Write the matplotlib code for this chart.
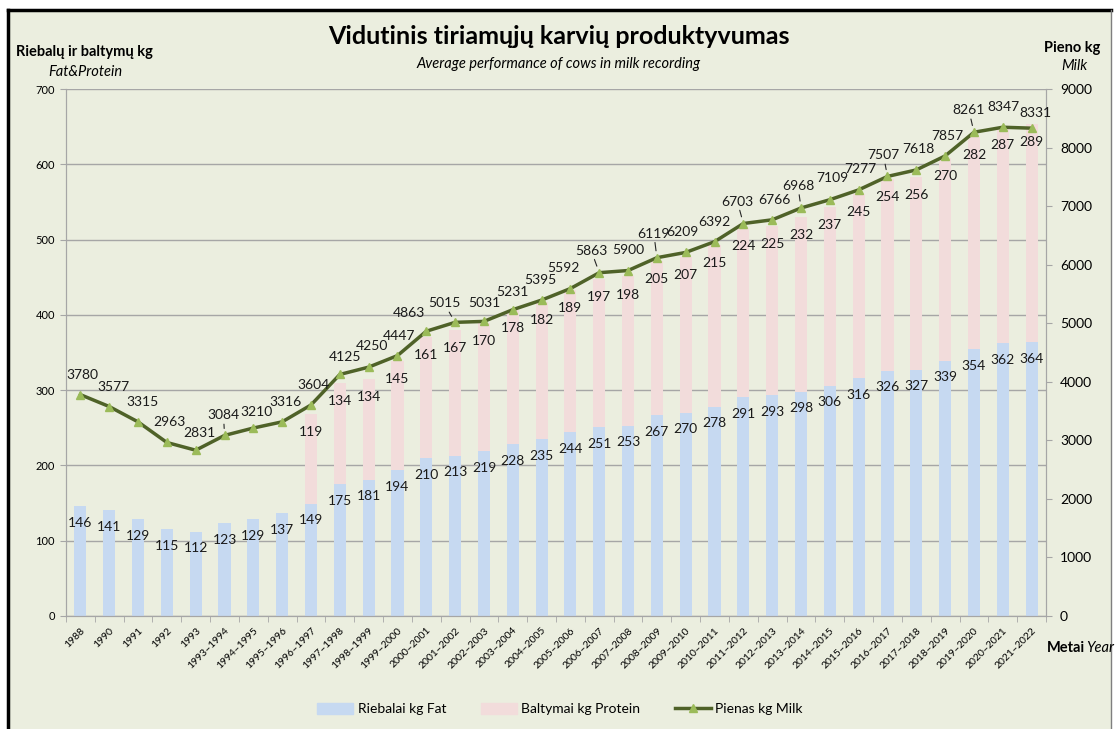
import matplotlib
matplotlib.use('Agg')
import matplotlib.pyplot as plt
import matplotlib.patches as mpatches
from matplotlib.lines import Line2D
import numpy as np

plt.rcParams['font.family'] = ['Lato', 'DejaVu Sans']

years = ["1988", "1990", "1991", "1992", "1993",
         "1993–1994", "1994–1995", "1995–1996", "1996–1997", "1997–1998",
         "1998–1999", "1999–2000", "2000–2001", "2001–2002", "2002–2003",
         "2003–2004", "2004–2005", "2005–2006", "2006–2007", "2007–2008",
         "2008–2009", "2009–2010", "2010–2011", "2011–2012", "2012–2013",
         "2013–2014", "2014–2015", "2015–2016", "2016–2017", "2017–2018",
         "2018–2019", "2019–2020", "2020–2021", "2021–2022"]
fat = [146, 141, 129, 115, 112, 123, 129, 137, 149, 175, 181, 194, 210, 213,
       219, 228, 235, 244, 251, 253, 267, 270, 278, 291, 293, 298, 306, 316,
       326, 327, 339, 354, 362, 364]
protein = [None] * 8 + [119, 134, 134, 145, 161, 167, 170, 178, 182, 189, 197,
                        198, 205, 207, 215, 224, 225, 232, 237, 245, 254, 256,
                        270, 282, 287, 289]
milk = [3780, 3577, 3315, 2963, 2831, 3084, 3210, 3316, 3604, 4125, 4250, 4447,
        4863, 5015, 5031, 5231, 5395, 5592, 5863, 5900, 6119, 6209, 6392, 6703,
        6766, 6968, 7109, 7277, 7507, 7618, 7857, 8261, 8347, 8331]

# label nudges (pixels) for the milk labels, as placed in the source chart
milk_dx = [2, 4, 4, 3, 4, -1, 3, 3, 3, 5, 3, 2, -17, -11, 0, 0, -1, -7, -8, 0,
           -3, -3, 0, -6, 2, -3, 2, 2, -4, 2, 2, -5, 1, 4]
milk_dy = [20, 20, 20, 20, 17, 20, 16, 20, 20, 17, 21, 20, 18, 19, 18, 18, 20, 21,
           22, 21, 24, 20, 20, 22, 20, 22, 22, 21, 21, 21, 20, 22, 20, 15]
leaders = {5, 13, 18, 20, 23, 25, 28, 31}

BG = "#EBEEDF"
FAT_C = "#C6D9F1"
PROT_C = "#F2DCDB"
LINE_C = "#4F6228"
MARK_C = "#9BBB59"
GRID_C = "#A6A6A6"
TXT_C = "#1a1a1a"
PX = 0.72  # points per pixel at dpi 100

fig = plt.figure(figsize=(11.18, 7.29), dpi=100, facecolor="white")
fig.patches.append(mpatches.Rectangle((8 / 1118, -0.01), 1103 / 1118, 1.01 - 10 / 729,
                                      transform=fig.transFigure, facecolor=BG,
                                      edgecolor="none", zorder=-10))
# frame: heavy black on left/top, thin grey on right
fig.add_artist(Line2D([8 / 1118, 8 / 1118], [0, 1 - 10 / 729], color="black", linewidth=2.5,
                      transform=fig.transFigure))
fig.add_artist(Line2D([8 / 1118, 1111 / 1118], [1 - 10 / 729, 1 - 10 / 729], color="black",
                      linewidth=2.5, transform=fig.transFigure))
fig.add_artist(Line2D([1111 / 1118, 1111 / 1118], [0, 1 - 10 / 729], color="#7f7f7f",
                      linewidth=1, transform=fig.transFigure))

ax = fig.add_axes([66 / 1118, 113 / 729, 980 / 1118, 527 / 729])
ax.set_facecolor("none")
x = np.arange(len(years))
prot_vals = np.array([p if p is not None else 0 for p in protein])

w = 0.42
ax.bar(x, fat, width=w, color=FAT_C, zorder=2)
ax.bar(x, prot_vals, width=w, bottom=fat, color=PROT_C, zorder=2)

for i in range(len(x)):
    ax.annotate(str(fat[i]), (x[i], fat[i]), xytext=(0, -12), textcoords="offset points",
                ha="center", va="center", fontsize=10, color=TXT_C, zorder=5)
    if protein[i] is not None:
        ax.annotate(str(protein[i]), (x[i], fat[i] + protein[i]), xytext=(0, -13),
                    textcoords="offset points", ha="center", va="center",
                    fontsize=10, color=TXT_C, zorder=5)

ax.set_ylim(0, 700)
ax.set_xlim(-0.5, len(x) - 0.5)
ax.set_yticks(range(0, 701, 100))
ax.yaxis.grid(True, color=GRID_C, linewidth=1)
ax.set_axisbelow(True)
ax.tick_params(axis="y", labelsize=8, length=4, color=GRID_C, pad=4)
ax.set_xticks(x)
ax.set_xticklabels(years, rotation=45, ha="right", rotation_mode="anchor", fontsize=7.5)
ax.tick_params(axis="x", which="major", length=0, pad=7)
ax.set_xticks(np.arange(-0.5, len(x), 1), minor=True)
ax.tick_params(axis="x", which="minor", length=4, color=GRID_C)
ax.spines["top"].set_visible(False)
for s in ["left", "bottom", "right"]:
    ax.spines[s].set_color(GRID_C)

ax2 = ax.twinx()
ax2.plot(x, milk, color=LINE_C, linewidth=2.5, marker="^", markersize=6,
         markerfacecolor=MARK_C, markeredgecolor=MARK_C, zorder=4)
ax2.set_ylim(0, 9000)
ax2.set_yticks(range(0, 9001, 1000))
ax2.tick_params(axis="y", labelsize=10, length=4, color=GRID_C, pad=6)
ax2.spines["top"].set_visible(False)
for s in ["left", "bottom", "right"]:
    ax2.spines[s].set_color(GRID_C)
for i in range(len(x)):
    arrow = None
    if i in leaders:
        arrow = dict(arrowstyle="-", color="#262626", lw=0.8, shrinkA=0, shrinkB=5)
    ax2.annotate(str(milk[i]), (x[i], milk[i]),
                 xytext=(milk_dx[i] * PX, milk_dy[i] * PX), textcoords="offset points",
                 ha="center", va="center", fontsize=10, color=TXT_C, zorder=5,
                 arrowprops=arrow)

fig.text(0.5, 1 - 37 / 729, "Vidutinis tiriamųjų karvių produktyvumas", ha="center",
         va="center", fontsize=18, fontweight="bold")
fig.text(0.5, 1 - 64 / 729, "Average performance of cows in milk recording", ha="center",
         va="center", fontsize=10.5, style="italic")
fig.text(16 / 1118, 1 - 52 / 729, "Riebalų ir baltymų kg", ha="left", va="center",
         fontsize=10.5, fontweight="bold")
fig.text(48 / 1118, 1 - 72 / 729, "Fat&Protein", ha="left", va="center",
         fontsize=10.5, style="italic")
fig.text(1100 / 1118, 1 - 48 / 729, "Pieno kg", ha="right", va="center",
         fontsize=10.5, fontweight="bold")
fig.text(1087 / 1118, 1 - 66 / 729, "Milk", ha="right", va="center",
         fontsize=10.5, style="italic")
fig.text(1047 / 1118, 1 - 648 / 729, "Metai", ha="left", va="center",
         fontsize=10.5, fontweight="bold")
fig.text(1086 / 1118, 1 - 648 / 729, "Year", ha="left", va="center",
         fontsize=10.5, style="italic")

handles = [mpatches.Patch(color=FAT_C, label="Riebalai kg Fat"),
           mpatches.Patch(color=PROT_C, label="Baltymai kg Protein"),
           Line2D([0], [0], color=LINE_C, linewidth=2.5, marker="^", markersize=6,
                  markerfacecolor=MARK_C, markeredgecolor=MARK_C, label="Pienas kg Milk")]
fig.legend(handles=handles, loc="center", bbox_to_anchor=(560 / 1118, 1 - 709 / 729), ncol=3,
           frameon=False, fontsize=10, columnspacing=2.5, handlelength=2.6,
           handletextpad=0.3, handleheight=0.9)

fig.savefig("out.png", dpi=100, facecolor="white")
